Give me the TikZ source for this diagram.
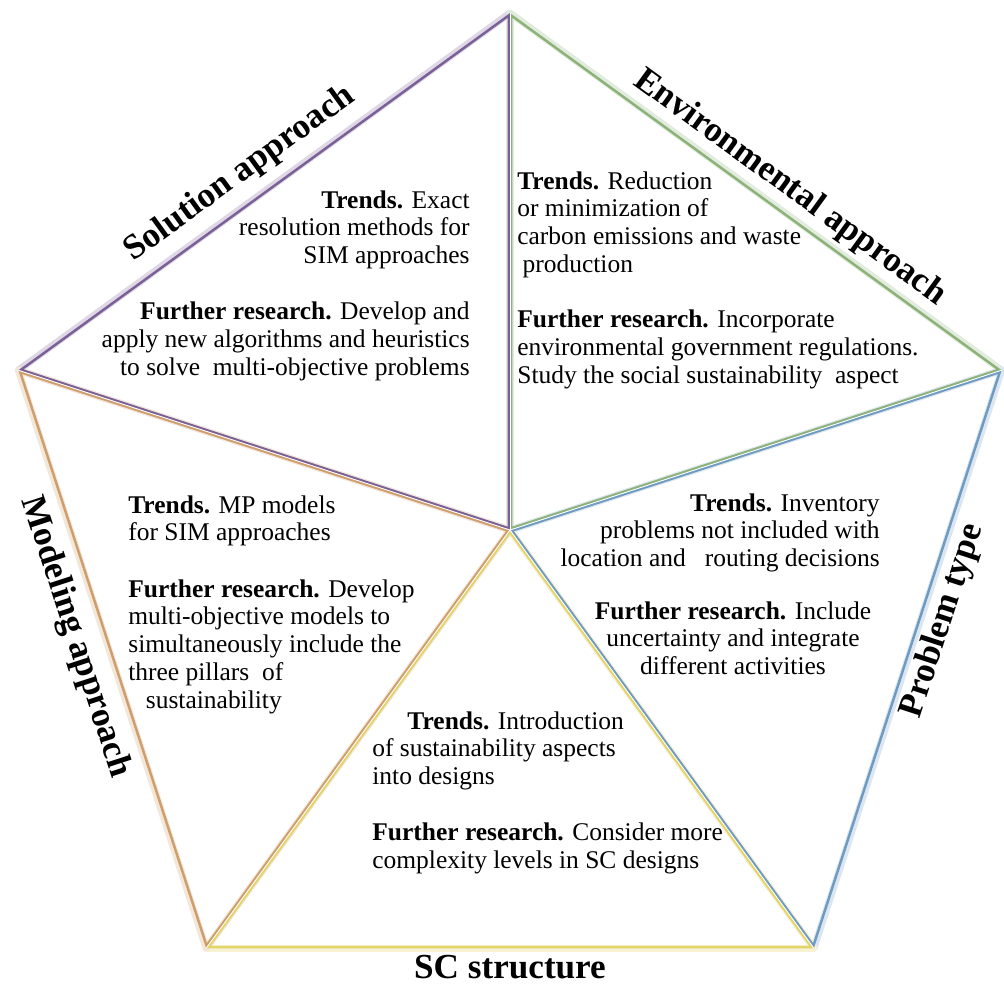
\documentclass[tikz,border=0pt]{standalone}
\usepackage{fontspec}
\setmainfont{Liberation Serif}
\usepackage{xcolor}
\usepackage{tikz}
\usetikzlibrary{
	calc,
	positioning,
	}

\definecolor{solcol}{HTML}{7A6096}
\definecolor{envcol}{HTML}{8CB279}
\definecolor{probcol}{HTML}{6F9BC2}
\definecolor{sccol}{HTML}{E3D46A}
\definecolor{modcol}{HTML}{CF9E6C}

\tikzset{
	halo/.style={line width=4pt, line join=round},
	edge/.style={line width=2.8pt, line join=miter},
	gap/.style={white, line width=0.5pt},
	body/.style={inner sep=0pt, font=\fontsize{14.5}{15.9}\selectfont},
	title/.style={inner sep=0pt, font=\fontsize{20}{24}\selectfont\bfseries},
}

\begin{document}
\begin{tikzpicture}[x=0.02cm, y=-0.02cm]
			\useasboundingbox (0,0) rectangle (1004,985);
			\coordinate (c) at (510,530);
			\coordinate (t) at (510,13);
			\coordinate (r) at (1001.7,370.2);
			\coordinate (br) at (813.9,948.3);
			\coordinate (bl) at (206.1,948.3);
			\coordinate (l) at (18.3,370.2);
			% pale halo round every sector
			\draw[halo, solcol!25] (c) -- (l) -- (t) -- cycle;
			\draw[halo, envcol!25] (c) -- (t) -- (r) -- cycle;
			\draw[halo, probcol!25] (c) -- (r) -- (br) -- cycle;
			\draw[halo, sccol!30] (c) -- (br) -- (bl) -- cycle;
			\draw[halo, modcol!25] (c) -- (bl) -- (l) -- cycle;
			% coloured border, inner half only
			\begin{scope}
				\clip (c) -- (l) -- (t) -- cycle;
				\draw[edge, solcol] (c) -- (l) -- (t) -- cycle;
			\end{scope}
			\begin{scope}
				\clip (c) -- (t) -- (r) -- cycle;
				\draw[edge, envcol] (c) -- (t) -- (r) -- cycle;
			\end{scope}
			\begin{scope}
				\clip (c) -- (r) -- (br) -- cycle;
				\draw[edge, probcol] (c) -- (r) -- (br) -- cycle;
			\end{scope}
			\begin{scope}
				\clip (c) -- (br) -- (bl) -- cycle;
				\draw[edge, sccol] (c) -- (br) -- (bl) -- cycle;
			\end{scope}
			\begin{scope}
				\clip (c) -- (bl) -- (l) -- cycle;
				\draw[edge, modcol] (c) -- (bl) -- (l) -- cycle;
			\end{scope}
			\draw[gap] (c) -- (t);
			\draw[gap] (c) -- (r);
			\draw[gap] (c) -- (br);
			\draw[gap] (c) -- (bl);
			\draw[gap] (c) -- (l);
			% titles
			\node[title, rotate=36] (soltitle) at (240,174) {Solution approach};
			\node[title, rotate=-36] (envtitle) at (790,188) {Environmental approach};
			\node[title, rotate=72] (probtitle) at (943,621) {Problem type};
			\node[title] (sctitle) at (510,967) {SC structure};
			\node[title, rotate=-72] (modtitle) at (75,637) {Modeling approach};
			% texts
			\node[body, anchor=north east, align=right] (soltext) at (470,190) {
				\textbf{Trends.} Exact\\
				resolution methods for\\
				SIM approaches\\[16pt]
				\textbf{Further research.} Develop and\\
				apply new algorithms and heuristics\\
				to solve\ \ multi-objective problems
			};
			\node[body, anchor=north west, align=left] (envtext) at (517,171) {
				\textbf{Trends.} Reduction\\
				or minimization of\\
				carbon emissions and waste\\
				\hspace*{3pt}production\\[15pt]
				\textbf{Further research.} Incorporate\\
				environmental government regulations.\\
				Study the social sustainability\ \ aspect
			};
			\node[body, anchor=north east, align=right] (probtrends) at (880,493) {
				\textbf{Trends.} Inventory\\
				problems not included with\\
				location and\ \ \ routing decisions
			};
			\node[body, anchor=north, align=center] (probfurther) at (733,601) {
				\textbf{Further research.} Include\\
				uncertainty and integrate\\
				different activities
			};
			\node[body, anchor=north west, align=left] (sctext) at (372,711) {
				\hspace*{20pt}\textbf{Trends.} Introduction\\
				of sustainability aspects\\
				into designs\\[16pt]
				\textbf{Further research.} Consider more\\
				complexity levels in SC designs
			};
			\node[body, anchor=north west, align=left] (modtext) at (128,495) {
				\textbf{Trends.} MP models\\
				for SIM approaches\\[16pt]
				\textbf{Further research.} Develop\\
				multi-objective models to\\
				simultaneously include the\\
				three pillars\ \ of\\
				\hspace*{10pt}sustainability
			};
		\end{tikzpicture}
\end{document}
